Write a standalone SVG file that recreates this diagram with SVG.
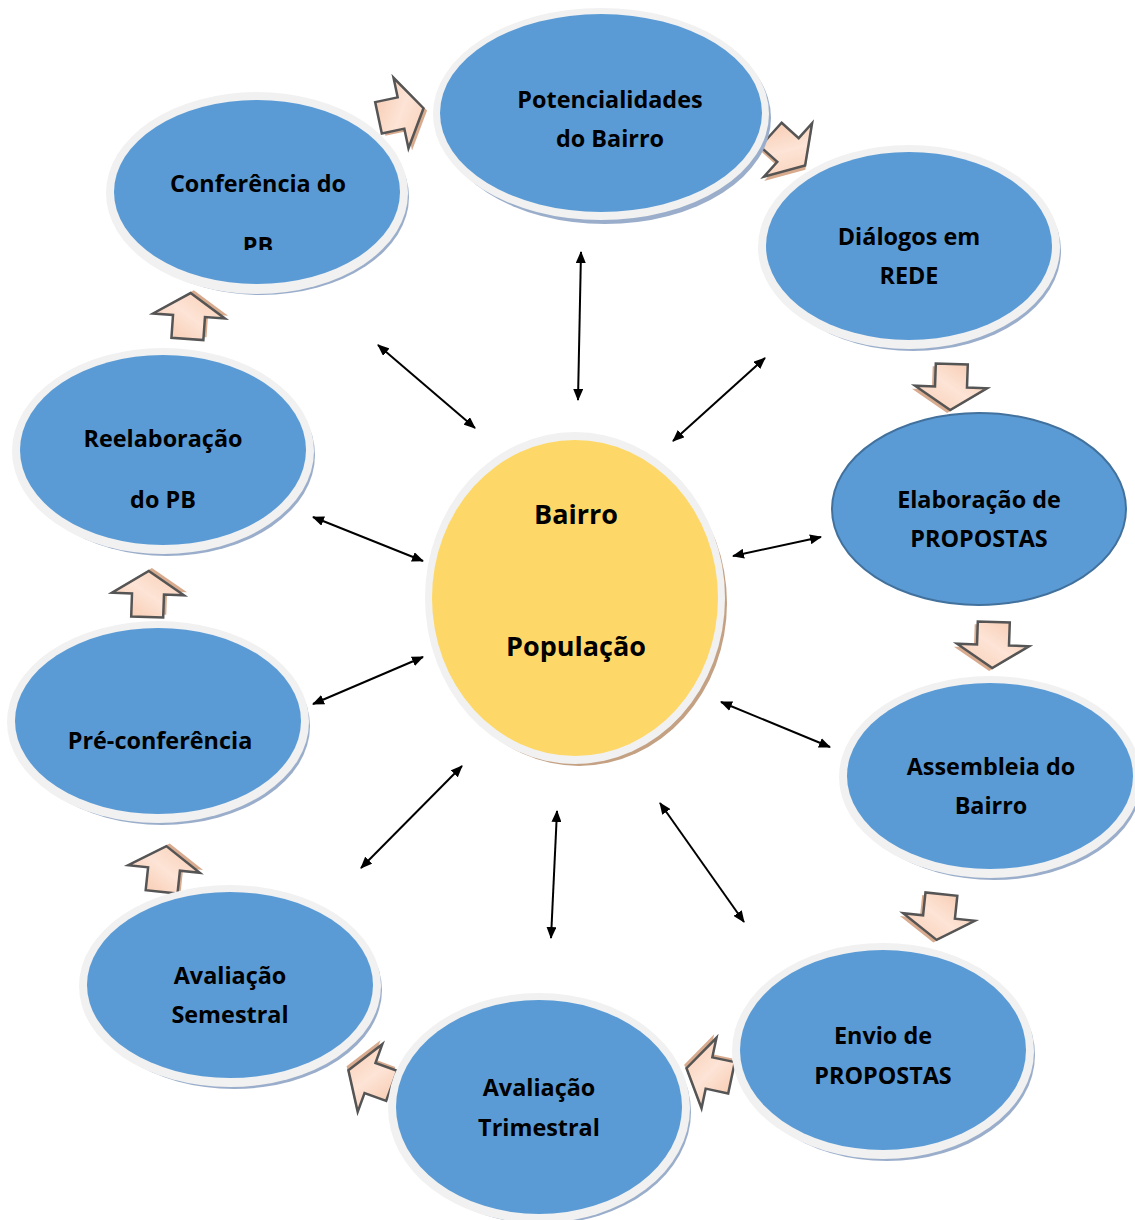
<svg xmlns="http://www.w3.org/2000/svg" width="1135" height="1220" viewBox="0 0 1135 1220">
<defs>
<style>
.ring{fill:#f1f1f1}
.sh{fill:#9aaecb}
.blue{fill:#5b9bd5}
.t{font-family:"Open Sans","Noto Sans",sans-serif;font-weight:bold;font-size:23.4px;fill:#000;text-anchor:middle}
.tc{font-family:"Open Sans","Noto Sans",sans-serif;font-weight:bold;font-size:27px;fill:#000;text-anchor:middle}
.conn line{stroke:#000;stroke-width:2;marker-start:url(#ah);marker-end:url(#ah)}
.ba{fill:url(#pg);stroke:#555;stroke-width:2.5;stroke-linejoin:miter}
.bs{fill:#d9ab8e}
</style>
<linearGradient id="pg" x1="0" y1="0" x2="1" y2="1">
<stop offset="0" stop-color="#f6c6aa"/>
<stop offset="0.5" stop-color="#fde4d6"/>
<stop offset="1" stop-color="#f8ccb2"/>
</linearGradient>
<marker id="ah" viewBox="0 0 12 10" refX="11" refY="5" markerWidth="12" markerHeight="10" markerUnits="userSpaceOnUse" orient="auto-start-reverse">
<path d="M0,0 L12,5 L0,10 Z" fill="#000"/>
</marker>
<path id="blk" d="M -23,-16 L 0,-16 L 0,-36 L 23,0 L 0,36 L 0,16 L -23,16 Z"/>
<clipPath id="cpb"><rect x="100" y="80" width="320" height="170"/></clipPath>
</defs>
<rect width="1135" height="1220" fill="#fff"/>

<g id="connectors" class="conn">
<line x1="581" y1="252" x2="578" y2="400"/>
<line x1="378" y1="345" x2="475" y2="428"/>
<line x1="765" y1="358" x2="673" y2="441"/>
<line x1="313" y1="517" x2="423" y2="561"/>
<line x1="821" y1="537" x2="733" y2="556"/>
<line x1="423" y1="657" x2="313" y2="704"/>
<line x1="721" y1="702" x2="830" y2="747"/>
<line x1="462" y1="766" x2="361" y2="868"/>
<line x1="557" y1="811" x2="551" y2="938"/>
<line x1="660" y1="803" x2="744" y2="922"/>
</g>

<g id="flow-arrows">
<g transform="translate(401,113) rotate(-12)"><use href="#blk" class="bs" transform="translate(3,3)"/><use href="#blk" class="ba"/></g>
<g transform="translate(788,150) rotate(42)"><use href="#blk" class="bs" transform="translate(3,3)"/><use href="#blk" class="ba"/></g>
<g transform="translate(951,387) rotate(92)"><use href="#blk" class="bs" transform="translate(3,3)"/><use href="#blk" class="ba"/></g>
<g transform="translate(993,645) rotate(92)"><use href="#blk" class="bs" transform="translate(3,3)"/><use href="#blk" class="ba"/></g>
<g transform="translate(939,917) rotate(96)"><use href="#blk" class="bs" transform="translate(3,3)"/><use href="#blk" class="ba"/></g>
<g transform="translate(709,1073) rotate(192)"><use href="#blk" class="bs" transform="translate(3,3)"/><use href="#blk" class="ba"/></g>
<g transform="translate(370,1078) rotate(200)"><use href="#blk" class="bs" transform="translate(3,3)"/><use href="#blk" class="ba"/></g>
<g transform="translate(164,869) rotate(-84)"><use href="#blk" class="bs" transform="translate(3,3)"/><use href="#blk" class="ba"/></g>
<g transform="translate(148,594) rotate(-88)"><use href="#blk" class="bs" transform="translate(3,3)"/><use href="#blk" class="ba"/></g>
<g transform="translate(189,316) rotate(-86)"><use href="#blk" class="bs" transform="translate(3,3)"/><use href="#blk" class="ba"/></g>
</g>

<g id="n-potencialidades">
<ellipse class="sh" cx="605" cy="118" rx="166" ry="106"/>
<ellipse class="ring" cx="601" cy="114" rx="168" ry="106"/>
<ellipse class="blue" cx="601" cy="113" rx="161" ry="99"/>
<text class="t" x="610" y="108">Potencialidades</text>
<text class="t" x="610" y="147">do Bairro</text>
</g>

<g id="n-conferencia">
<ellipse class="sh" cx="261" cy="197" rx="148" ry="98"/>
<ellipse class="ring" cx="257" cy="193" rx="151" ry="101"/>
<ellipse class="blue" cx="257" cy="192" rx="143" ry="92"/>
<text class="t" x="258" y="192">Conferência do</text>
<text class="t" x="258" y="254" clip-path="url(#cpb)">PB</text>
</g>

<g id="n-dialogos">
<ellipse class="sh" cx="913" cy="251" rx="148" ry="100"/>
<ellipse class="ring" cx="909" cy="247" rx="151" ry="102"/>
<ellipse class="blue" cx="909" cy="246" rx="143" ry="94"/>
<text class="t" x="909" y="245">Diálogos em</text>
<text class="t" x="909" y="284">REDE</text>
</g>

<g id="n-elaboracao">
<ellipse cx="979" cy="509" rx="147" ry="96" fill="#5b9bd5" stroke="#41719c" stroke-width="2"/>
<text class="t" x="979" y="508">Elaboração de</text>
<text class="t" x="979" y="547">PROPOSTAS</text>
</g>

<g id="n-assembleia">
<ellipse class="sh" cx="994" cy="781" rx="148" ry="99"/>
<ellipse class="ring" cx="990" cy="777" rx="151" ry="101"/>
<ellipse class="blue" cx="990" cy="776" rx="143" ry="93"/>
<text class="t" x="991" y="775">Assembleia do</text>
<text class="t" x="991" y="814">Bairro</text>
</g>

<g id="n-envio">
<ellipse class="sh" cx="887" cy="1055" rx="148" ry="106"/>
<ellipse class="ring" cx="883" cy="1051" rx="151" ry="108"/>
<ellipse class="blue" cx="883" cy="1050" rx="143" ry="100"/>
<text class="t" x="883" y="1044">Envio de</text>
<text class="t" x="883" y="1084">PROPOSTAS</text>
</g>

<g id="n-trimestral">
<ellipse class="sh" cx="543" cy="1112" rx="148" ry="112"/>
<ellipse class="ring" cx="539" cy="1108" rx="151" ry="115"/>
<ellipse class="blue" cx="539" cy="1107" rx="143" ry="107"/>
<text class="t" x="539" y="1096">Avaliação</text>
<text class="t" x="539" y="1136">Trimestral</text>
</g>

<g id="n-semestral">
<ellipse class="sh" cx="234" cy="990" rx="148" ry="99"/>
<ellipse class="ring" cx="230" cy="986" rx="151" ry="101"/>
<ellipse class="blue" cx="230" cy="985" rx="143" ry="93"/>
<text class="t" x="230" y="984">Avaliação</text>
<text class="t" x="230" y="1023">Semestral</text>
</g>

<g id="n-preconferencia">
<ellipse class="sh" cx="162" cy="726" rx="148" ry="99"/>
<ellipse class="ring" cx="158" cy="722" rx="151" ry="101"/>
<ellipse class="blue" cx="158" cy="721" rx="143" ry="93"/>
<text class="t" x="160" y="749">Pré-conferência</text>
</g>

<g id="n-reelaboracao">
<ellipse class="sh" cx="167" cy="455" rx="148" ry="101"/>
<ellipse class="ring" cx="163" cy="451" rx="151" ry="103"/>
<ellipse class="blue" cx="163" cy="450" rx="143" ry="95"/>
<text class="t" x="163" y="447">Reelaboração</text>
<text class="t" x="163" y="508">do PB</text>
</g>

<g id="n-centro">
<ellipse cx="579" cy="603" rx="148" ry="163" fill="#c4a183"/>
<ellipse cx="575" cy="598" rx="150" ry="166" fill="#f1f1f1"/>
<ellipse cx="575" cy="598" rx="143" ry="158" fill="#fdd868"/>
<text class="tc" x="576" y="524">Bairro</text>
<text class="tc" x="576" y="656">População</text>
</g>
</svg>
